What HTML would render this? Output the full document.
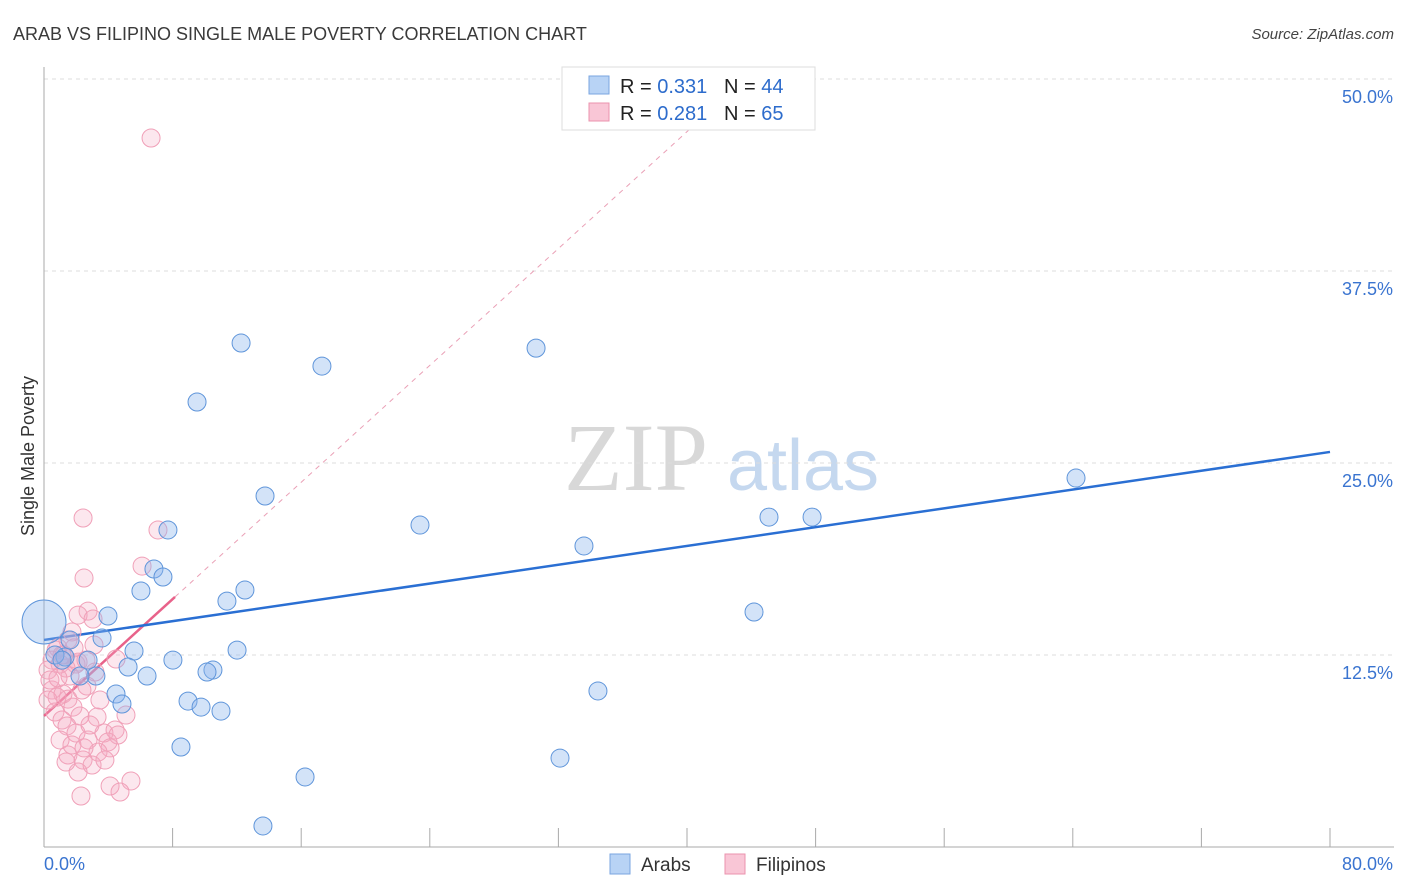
<!DOCTYPE html>
<html><head><meta charset="utf-8"><style>
body{margin:0;background:#fff;font-family:"Liberation Sans",sans-serif;}
svg{display:block}
</style></head><body>
<svg id="chart" width="1406" height="892" viewBox="0 0 1406 892" xmlns="http://www.w3.org/2000/svg">
<text x="13" y="40" font-size="18" fill="#3a3a3a">ARAB VS FILIPINO SINGLE MALE POVERTY CORRELATION CHART</text>
<text x="1394" y="39" font-size="15" fill="#444" font-style="italic" text-anchor="end">Source: ZipAtlas.com</text>
<text transform="translate(34,456) rotate(-90)" font-size="18" fill="#333" text-anchor="middle">Single Male Poverty</text>
<g>
<text x="636" y="490" font-size="96" font-family="Liberation Serif,serif" fill="#d8d8d8" text-anchor="middle">ZIP</text>
<text x="803" y="490" font-size="72" fill="#c5d8ef" text-anchor="middle">atlas</text>
</g>
<g id="grid"></g><g id="axes"></g><g id="trends"></g><g id="points"></g>
<g>
<rect x="562" y="67" width="253" height="63" fill="#fff" stroke="#ddd"/>
<rect x="589" y="76" width="20" height="18" fill="#b8d3f5" stroke="#7aa6e0"/>
<text x="620" y="93" font-size="20" fill="#222" xml:space="preserve">R = <tspan fill="#2d6ccc">0.331</tspan>   N = <tspan fill="#2d6ccc">44</tspan></text>
<rect x="589" y="103" width="20" height="18" fill="#f9c6d6" stroke="#eb93ae"/>
<text x="620" y="120" font-size="20" fill="#222" xml:space="preserve">R = <tspan fill="#2d6ccc">0.281</tspan>   N = <tspan fill="#2d6ccc">65</tspan></text>
</g>
<g>
<rect x="610" y="854" width="20" height="20" fill="#b8d3f5" stroke="#7aa6e0"/>
<text x="641" y="871" font-size="19" fill="#333">Arabs</text>
<rect x="725" y="854" width="20" height="20" fill="#f9c6d6" stroke="#eb93ae"/>
<text x="756" y="871" font-size="19" fill="#333">Filipinos</text>
</g>
</svg>
<script>
const yTicks=[12.5,25,37.5,50];
const yTickLabels=["12.5%","25.0%","37.5%","50.0%"];
const xTickVals=[0,8,16,24,32,40,48,56,64,72,80];
const arabsX=[12.26,17.29,30.61,9.52,13.75,7.71,23.39,33.59,45.10,47.78,64.20,6.84,7.40,6.03,12.50,11.38,3.98,44.17,3.61,5.60,12.01,8.02,2.74,1.31,5.23,10.51,10.14,6.41,3.23,2.24,4.48,4.85,34.46,8.96,9.77,11.01,8.52,32.10,16.24,13.62,0.0,1.62,0.68,1.12];
const arabsY=[32.81,31.31,32.48,28.97,22.85,20.64,20.96,19.60,21.48,21.48,24.02,18.10,17.58,16.67,16.73,16.01,15.04,15.30,13.61,12.76,12.82,12.17,12.17,12.37,11.72,11.52,11.39,11.13,11.13,11.13,9.96,9.31,10.16,9.50,9.11,8.85,6.51,5.79,4.56,1.37,14.65,13.48,12.50,12.17];
const filX=[6.66,2.43,7.09,2.49,6.10,2.74,2.12,3.05,1.74,1.49,0.87,0.50,1.00,0.25,1.99,2.61,4.48,3.17,1.62,0.50,1.18,2.67,1.49,0.68,1.80,2.24,1.12,1.43,3.30,5.10,1.00,1.99,2.74,3.73,4.42,4.60,3.98,4.11,3.36,1.49,2.43,2.99,2.12,4.11,5.41,2.30,4.73,0.81,0.37,0.75,1.24,1.37,2.12,3.11,3.48,0.87,0.25,2.36,1.74,2.86,3.79,1.37,2.49,1.12,1.87];
const filY=[46.16,21.42,20.64,17.51,18.29,15.36,15.10,14.84,14.00,13.48,12.96,12.17,11.91,11.52,11.91,12.17,12.24,11.39,11.13,10.22,9.96,10.48,9.63,8.79,9.11,8.53,8.27,7.88,8.46,8.59,6.97,7.42,6.97,7.42,7.62,7.29,6.84,6.45,6.18,5.99,5.66,5.34,4.88,3.97,4.30,3.32,3.58,9.76,10.87,12.82,12.50,11.65,12.04,13.15,9.57,11.00,9.57,10.22,6.64,7.94,5.66,5.53,6.45,12.50,12.96];
const arabsTrend=[13.48,25.72];
const filTrend=[8.53,0.951];
const filSolidEnd=8.15;
const NS="http://www.w3.org/2000/svg";
const X=v=>44+v/80*1286, Y=v=>847-v/12.5*192;
function mk(tag,attrs,parent){const e=document.createElementNS(NS,tag);for(const k in attrs)e.setAttribute(k,attrs[k]);parent.appendChild(e);return e;}
const grid=document.getElementById('grid'),axes=document.getElementById('axes'),trends=document.getElementById('trends'),pts=document.getElementById('points');
yTicks.forEach((t,i)=>{
 const l=mk('line',{x1:44,x2:1394,y1:Y(t),y2:Y(t),stroke:'#ddd','stroke-dasharray':'4,4'},grid);
 
 
 const tx=mk('text',{x:1393,y:Y(t)+24,'font-size':18,fill:'#3a74d0','text-anchor':'end'},grid);
 tx.textContent=yTickLabels[i];
 
 
});
const ax=mk('line',{x1:44,x2:1394,y1:847,y2:847,stroke:'#aaa'},axes);


const ay=mk('line',{x1:44,x2:44,y1:67,y2:847,stroke:'#aaa'},axes);


xTickVals.forEach(v=>{
 const t=mk('line',{x1:X(v),x2:X(v),y1:828,y2:847,stroke:'#aaa'},axes);
 
 
});
const xl0=mk('text',{x:44,y:870,'font-size':18,fill:'#3a74d0'},axes);xl0.textContent='0.0%';


const xl1=mk('text',{x:1393,y:870,'font-size':18,fill:'#3a74d0','text-anchor':'end'},axes);xl1.textContent='80.0%';


const fdEnd=(50-filTrend[0])/filTrend[1];
const fd=mk('line',{x1:X(filSolidEnd),y1:Y(filTrend[0]+filTrend[1]*filSolidEnd),x2:X(fdEnd),y2:Y(50),stroke:'#eaa0b6','stroke-dasharray':'5,5','stroke-width':1},trends);


const ft=mk('line',{x1:X(0),y1:Y(filTrend[0]),x2:X(filSolidEnd),y2:Y(filTrend[0]+filTrend[1]*filSolidEnd),stroke:'#e8628a','stroke-width':2.5},trends);


filX.forEach((x,i)=>{
 const c=mk('circle',{cx:X(x),cy:Y(filY[i]),r:9,fill:'rgba(244,170,195,0.28)',stroke:'#f0a0b8','stroke-width':1},pts);
 
 
});
arabsX.forEach((x,i)=>{
 const c=mk('circle',{cx:X(x),cy:Y(arabsY[i]),r:i==40?22:9,fill:'rgba(140,182,236,0.38)',stroke:'#5f95da','stroke-width':1},pts);
 
 
});
const bt=mk('line',{x1:X(0),y1:Y(arabsTrend[0]),x2:X(80),y2:Y(arabsTrend[1]),stroke:'#2a6fd3','stroke-width':2.5},trends);


</script>
</body></html>
